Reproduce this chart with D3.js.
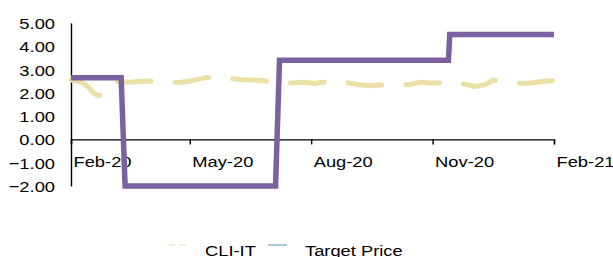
<!DOCTYPE html>
<html>
<head>
	<meta charset="utf-8">
	<title>CLI-IT vs Target Price</title>
	<script src="https://d3js.org/d3.v7.min.js"></script>
	<style>
		body { margin: 0; background: #fff; }
		text { font-family: "Liberation Sans", Arial, sans-serif; fill: #000; }
	</style>
</head>
<body>
	<svg width="613" height="257"></svg>
	<script>
		// CLI-IT series (dates + values)
		const cliDates = ["2020-02-01","2020-02-05","2020-02-09","2020-02-12","2020-02-15","2020-02-17","2020-02-19","2020-02-22","2020-02-25","2020-02-29",
			"2020-03-04","2020-03-09","2020-03-17","2020-03-24","2020-04-01","2020-04-08","2020-04-16","2020-04-24","2020-05-01","2020-05-09",
			"2020-05-14","2020-05-20","2020-05-28","2020-06-04","2020-06-12","2020-06-19","2020-06-26","2020-07-03","2020-07-12","2020-07-20",
			"2020-07-27","2020-08-04","2020-08-08","2020-08-15","2020-08-23","2020-08-30","2020-09-07","2020-09-15","2020-09-22","2020-09-30",
			"2020-10-07","2020-10-15","2020-10-23","2020-10-30","2020-11-04","2020-11-12","2020-11-20","2020-11-27","2020-12-03","2020-12-11",
			"2020-12-17","2020-12-24","2021-01-03","2021-01-14","2021-01-25","2021-01-31"];
		const cliValues = [2.55,2.50,2.45,2.35,2.20,2.05,1.95,1.88,1.95,2.30,
			2.50,2.48,2.45,2.50,2.50,2.45,2.43,2.45,2.50,2.60,
			2.66,2.62,2.62,2.60,2.55,2.55,2.52,2.45,2.42,2.43,
			2.45,2.40,2.45,2.45,2.48,2.42,2.33,2.30,2.33,2.35,
			2.33,2.36,2.45,2.42,2.42,2.45,2.45,2.35,2.27,2.35,
			2.55,2.45,2.40,2.42,2.50,2.52];

		// Target Price (change points)
		const tpDates = ["2020-02-01","2020-03-10","2020-03-13","2020-07-05","2020-07-08","2020-11-13","2020-11-14","2021-02-01"];
		const tpValues = [2.65,2.65,-2.0,-2.0,3.4,3.4,4.5,4.5];

		const xTicks = ["2020-02-01","2020-05-01","2020-08-01","2020-11-01","2021-02-01"];
		const yTicks = [-2,-1,0,1,2,3,4,5];
		const seriesNames = ["CLI-IT","Target Price"];

		const parse = d3.timeParse("%Y-%m-%d");
		const cli = cliDates.map((d, i) => ({date: parse(d), value: cliValues[i]}));
		const tp = tpDates.map((d, i) => ({date: parse(d), value: tpValues[i]}));

		const svg = d3.select("svg");
		const stretch = 1.19;

		const x = d3.scaleTime()
			.domain([parse("2020-02-01"), parse("2021-02-01")])
			.range([71, 554]);
		const y = d3.scaleLinear()
			.domain([-2, 5])
			.range([186, 22.9]);

		// y axis
		const yAxis = svg.append("g")
			.attr("transform", "translate(71,0)")
			.call(d3.axisLeft(y).tickValues(yTicks).tickSize(0).tickFormat(d3.format(".2f")));
		yAxis.select(".domain").attr("stroke", "#000").attr("stroke-width", 1.4);
		yAxis.selectAll("text")
			.attr("x", 0).attr("dy", "0.36em")
			.attr("transform", `translate(-16,0) scale(${stretch},1)`)
			.style("font-size", "15.4px");

		// x axis at zero
		const xAxis = svg.append("g")
			.attr("transform", `translate(0,${y(0)})`)
			.call(d3.axisBottom(x).tickValues(xTicks.map(parse)).tickSizeOuter(0).tickSize(5)
				.tickFormat(d3.timeFormat("%b-%y")));
		xAxis.select(".domain").attr("stroke", "#000").attr("stroke-width", 1.4);
		xAxis.selectAll("line").attr("stroke", "#000").attr("stroke-width", 1.4);
		xAxis.selectAll("text")
			.attr("y", 0).attr("dy", 0)
			.attr("text-anchor", "start")
			.attr("transform", `translate(2,27.5) scale(${stretch},1)`)
			.style("font-size", "15.4px");

		const line = d3.line().x(d => x(d.date)).y(d => y(d.value));

		svg.append("path")
			.datum(cli)
			.attr("d", line)
			.attr("fill", "none")
			.attr("stroke", "#ebe1a6")
			.attr("stroke-width", 5)
			.attr("stroke-linecap", "round")
			.attr("stroke-linejoin", "round")
			.attr("stroke-dasharray", "34,24");

		svg.append("path")
			.datum(tp)
			.attr("d", line)
			.attr("fill", "none")
			.attr("stroke", "#7b61a1")
			.attr("stroke-width", 5.5);

		// legend
		const legend = svg.append("g");
		legend.append("line")
			.attr("x1", 168).attr("x2", 187).attr("y1", 245).attr("y2", 245)
			.attr("stroke", "#efe8c8").attr("stroke-width", 1.5).attr("stroke-dasharray", "7,4");
		legend.append("line")
			.attr("x1", 268).attr("x2", 287).attr("y1", 245).attr("y2", 245)
			.attr("stroke", "#88b9c7").attr("stroke-width", 1.5);
		legend.selectAll("text.lbl")
			.data(seriesNames)
			.enter()
			.append("text")
			.attr("class", "lbl")
			.attr("transform", (d, i) => `translate(${i === 0 ? 205 : 305},256) scale(${stretch},1)`)
			.style("font-size", "15.4px")
			.text(d => d);
	</script>
</body>
</html>
